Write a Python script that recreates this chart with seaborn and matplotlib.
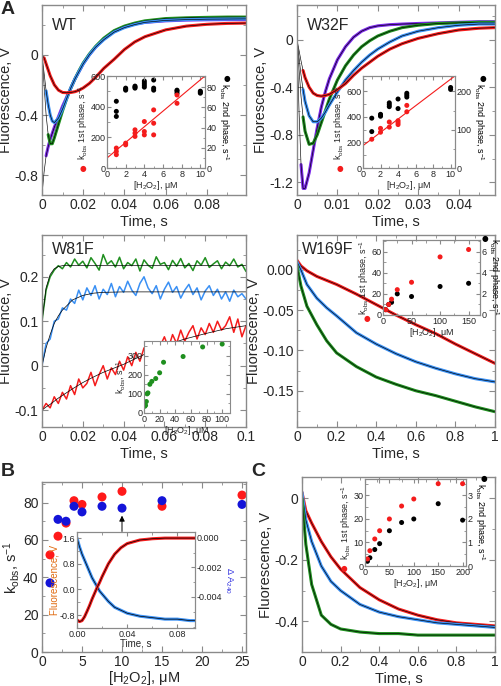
import numpy as np
import matplotlib
matplotlib.use("Agg")
import matplotlib.pyplot as plt
from matplotlib.ticker import AutoMinorLocator, MultipleLocator, FixedLocator
import seaborn as sns

sns.set_style("ticks")
plt.rcParams['font.family'] = ['Liberation Sans', 'DejaVu Sans']
plt.rcParams['mathtext.fontset'] = 'custom'
plt.rcParams['mathtext.rm'] = 'Liberation Sans'
plt.rcParams['mathtext.it'] = 'Liberation Sans:italic'
plt.rcParams['mathtext.default'] = 'regular'

W, H = 501, 686
RED = '#f41c1c'
BLUE = '#3a90f4'
GREEN = '#1f8f1f'
PURPLE = '#7a28e8'
FRAME = '#8a8a8a'

# ---------------- data: panel A, WT ----------------
wt_t = [0, 0.001, 0.002, 0.003, 0.004, 0.005, 0.006, 0.008, 0.010, 0.012, 0.014, 0.016, 0.018,
        0.020, 0.023, 0.026, 0.030, 0.035, 0.040, 0.045, 0.050, 0.060, 0.070, 0.080, 0.090, 0.099]
wt_red = [0.0, -0.02, -0.06, -0.10, -0.14, -0.17, -0.20, -0.235, -0.25, -0.252, -0.25, -0.245, -0.235,
          -0.22, -0.19, -0.15, -0.09, -0.03, 0.035, 0.085, 0.12, 0.165, 0.19, 0.202, 0.208, 0.21]
wt_blue = [0.0, -0.12, -0.24, -0.33, -0.40, -0.44, -0.45, -0.42, -0.36, -0.29, -0.22, -0.16, -0.11,
           -0.06, 0.0, 0.05, 0.10, 0.15, 0.18, 0.20, 0.215, 0.228, 0.233, 0.236, 0.237, 0.238]
wt_green = [0.0, -0.2, -0.4, -0.53, -0.59, -0.59, -0.55, -0.46, -0.37, -0.29, -0.22, -0.16, -0.105,
            -0.055, 0.005, 0.055, 0.11, 0.16, 0.19, 0.21, 0.225, 0.24, 0.245, 0.248, 0.25, 0.25]
wt_purple = [-0.93, -0.78, -0.67, -0.61, -0.56, -0.52, -0.48, -0.41, -0.34, -0.28, -0.22, -0.16, -0.11,
             -0.06, 0.0, 0.05, 0.105, 0.155, 0.185, 0.205, 0.215, 0.225, 0.23, 0.232, 0.233, 0.233]
wt_in_red_x = [1, 1, 1, 2, 2, 3, 3, 3, 4, 4, 4, 5, 5, 5, 7.5, 7.5]
wt_in_red_y = [130, 108, 87, 162, 151, 249, 227, 206, 303, 238, 216, 379, 292, 216, 476, 422]
wt_in_blk_x = [1, 1, 1, 2, 2, 2, 3, 3, 3, 4, 4, 4, 4, 5, 5, 5, 7.5, 7.5, 7.5, 10, 10, 10]
wt_in_blk_y = [66, 56, 51, 79, 78, 77, 81, 80, 79, 86, 84, 82, 80, 87, 79, 77, 77, 76, 74, 76, 75, 74]
wt_fit = (65, 51)  # intercept, slope

# ---------------- panel A, W32F ----------------
w32_t = [0, 0.0005, 0.001, 0.0015, 0.002, 0.003, 0.004, 0.005, 0.006, 0.007, 0.008, 0.010, 0.012,
         0.014, 0.016, 0.018, 0.020, 0.023, 0.026, 0.030, 0.035, 0.040, 0.045, 0.049]
w32_red = [0.0, -0.09, -0.18, -0.26, -0.32, -0.40, -0.45, -0.47, -0.475, -0.47, -0.46, -0.42, -0.37,
           -0.30, -0.24, -0.19, -0.14, -0.08, -0.035, 0.01, 0.05, 0.08, 0.095, 0.10]
w32_blue = [0.0, -0.15, -0.3, -0.42, -0.52, -0.64, -0.69, -0.69, -0.66, -0.61, -0.55, -0.44, -0.34,
            -0.26, -0.19, -0.13, -0.08, -0.02, 0.03, 0.07, 0.10, 0.12, 0.13, 0.13]
w32_green = [0.0, -0.25, -0.48, -0.65, -0.77, -0.88, -0.87, -0.80, -0.70, -0.60, -0.50, -0.34, -0.22,
             -0.13, -0.06, -0.01, 0.03, 0.07, 0.10, 0.12, 0.135, 0.14, 0.145, 0.145]
w32_purple = [0.0, -0.6, -1.05, -1.25, -1.25, -1.12, -0.93, -0.74, -0.57, -0.44, -0.33, -0.17, -0.06,
              0.02, 0.07, 0.10, 0.115, 0.125, 0.13, 0.135, 0.14, 0.145, 0.15, 0.15]
w32_in_red_x = [1, 2, 2, 3, 3, 4, 4, 4, 5, 5]
w32_in_red_y = [225, 280, 310, 320, 360, 340, 355, 370, 440, 490]
w32_in_blk_x = [1, 1, 2, 2, 2, 3, 3, 3, 4, 4, 5, 5, 5, 10, 10]
w32_in_blk_y = [95, 130, 135, 138, 140, 160, 165, 170, 155, 180, 185, 190, 195, 205, 210]
w32_fit = (175, 52)

# ---------------- panel A, W81F ----------------
w81_fit_t = [0, 0.002, 0.004, 0.006, 0.008, 0.010, 0.015, 0.020, 0.025, 0.030, 0.040, 0.050,
             0.060, 0.070, 0.080, 0.090, 0.100]
w81_fit_green = [0.10, 0.175, 0.205, 0.218, 0.223, 0.225, 0.225, 0.225, 0.225, 0.225, 0.225, 0.225,
                 0.225, 0.225, 0.225, 0.225, 0.225]
w81_fit_blue = [0.0, 0.04, 0.07, 0.095, 0.112, 0.125, 0.148, 0.158, 0.163, 0.165, 0.166, 0.166,
                0.166, 0.166, 0.166, 0.166, 0.166]
w81_fit_red = [-0.10, -0.093, -0.087, -0.080, -0.073, -0.067, -0.052, -0.038, -0.026, -0.015, 0.003,
               0.025, 0.045, 0.060, 0.072, 0.083, 0.090]
w81_t = list(np.round(np.arange(0, 0.1001, 0.002), 3))
w81_green = [0.10, 0.17, 0.20, 0.215, 0.225, 0.218, 0.232, 0.222, 0.240, 0.226, 0.235, 0.220, 0.243,
             0.230, 0.215, 0.250, 0.228, 0.236, 0.222, 0.244, 0.218, 0.232, 0.225, 0.240, 0.213,
             0.238, 0.226, 0.219, 0.245, 0.228, 0.232, 0.216, 0.237, 0.224, 0.241, 0.220, 0.230,
             0.214, 0.236, 0.226, 0.243, 0.221, 0.229, 0.236, 0.218, 0.233, 0.225, 0.240, 0.222,
             0.228, 0.212]
w81_blue = [0.0, 0.05, 0.06, 0.10, 0.105, 0.13, 0.125, 0.15, 0.14, 0.17, 0.148, 0.175, 0.158, 0.180,
            0.150, 0.172, 0.160, 0.185, 0.155, 0.178, 0.165, 0.190, 0.170, 0.158, 0.185, 0.200,
            0.175, 0.162, 0.180, 0.150, 0.172, 0.188, 0.165, 0.178, 0.152, 0.170, 0.183, 0.160,
            0.175, 0.148, 0.168, 0.180, 0.158, 0.172, 0.150, 0.166, 0.145, 0.170, 0.155, 0.162, 0.150]
w81_red = [-0.10, -0.085, -0.095, -0.07, -0.085, -0.06, -0.075, -0.045, -0.065, -0.03, -0.05, -0.04,
           -0.015, -0.045, -0.02, 0.0, -0.03, -0.005, -0.02, 0.01, -0.01, 0.02, 0.0, 0.03, 0.01, 0.04,
           0.015, 0.05, 0.03, 0.045, 0.065, 0.04, 0.07, 0.05, 0.08, 0.055, 0.075, 0.09, 0.06, 0.085,
           0.07, 0.095, 0.075, 0.10, 0.08, 0.09, 0.11, 0.075, 0.105, 0.065, 0.09]
w81_in_x = [1, 2, 3, 4, 5, 7.5, 10, 15, 20, 25, 50, 75, 100]
w81_in_y = [35, 40, 60, 100, 105, 150, 165, 180, 210, 265, 295, 345, 360]

# ---------------- panel A, W169F ----------------
w169_t = [0, 0.02, 0.05, 0.1, 0.15, 0.2, 0.3, 0.4, 0.5, 0.6, 0.7, 0.8, 0.9, 1.0]
w169_red = [0.012, 0.005, -0.001, -0.008, -0.013, -0.018, -0.030, -0.043, -0.056, -0.068, -0.079,
            -0.092, -0.104, -0.116]
w169_blue = [0.01, 0.0, -0.018, -0.035, -0.047, -0.057, -0.078, -0.092, -0.104, -0.114, -0.122,
             -0.129, -0.135, -0.139]
w169_green = [0.005, -0.02, -0.045, -0.068, -0.088, -0.103, -0.12, -0.133, -0.142, -0.15, -0.156,
              -0.163, -0.17, -0.176]
w169_in_x = [5, 10, 15, 25, 50, 100, 150]
w169_in_red = [5, 10, 15, 24, 31, 55, 62]
w169_in_blk = [0.5, 1.0, 1.2, 2.0, 1.75, 2.7, 3.0]

# ---------------- panel B ----------------
b_conc = [1, 2, 3, 4, 5, 7.5, 10, 15, 25]
b_red = [52, 62, 69, 81, 79, 83, 86, 78, 84]
b_blue = [37, 71, 70, 78, 75, 78, 77, 81, 79]
b_in_t = [0, 0.002, 0.004, 0.006, 0.008, 0.010, 0.012, 0.014, 0.016, 0.018, 0.020, 0.025, 0.030,
          0.035, 0.040, 0.050, 0.060, 0.070, 0.080, 0.090, 0.094]
b_in_fluor = [-0.95, -1.0, -0.97, -0.85, -0.68, -0.5, -0.3, -0.12, 0.06, 0.22, 0.4, 0.8, 1.1, 1.3,
              1.43, 1.54, 1.58, 1.6, 1.6, 1.6, 1.6]
b_in_abs = [0.0, -0.0006, -0.0011, -0.0015, -0.0019, -0.0023, -0.0027, -0.003, -0.0033, -0.0036,
            -0.0038, -0.0043, -0.0047, -0.0049, -0.0051, -0.0053, -0.0054, -0.0055, -0.0055,
            -0.0056, -0.0056]

# ---------------- panel C ----------------
c_t = [0, 0.02, 0.05, 0.1, 0.15, 0.2, 0.3, 0.4, 0.5, 0.6, 0.7, 0.8, 0.9, 1.0]
c_red = [0.02, -0.04, -0.08, -0.14, -0.19, -0.23, -0.29, -0.33, -0.36, -0.38, -0.395, -0.405, -0.41, -0.415]
c_blue = [0.02, -0.07, -0.14, -0.22, -0.27, -0.30, -0.345, -0.37, -0.385, -0.395, -0.405, -0.41, -0.415, -0.42]
c_green = [0.0, -0.15, -0.28, -0.38, -0.41, -0.425, -0.435, -0.44, -0.44, -0.445, -0.445, -0.445, -0.445, -0.445]
c_in_x = [5, 10, 20, 30, 50, 75, 100, 150, 200]
c_in_red = [3, 6.5, 11.5, 15, 20, 25.5, 28.5, 35, 35]
c_in_blk = [0.2, 0.35, 0.7, 0.95, 1.5, 1.85, 2.0, 2.65, 1.95]

fig = plt.figure(figsize=(W / 100, H / 100), dpi=100)

TICK = 10
LAB = 10.5
ITICK = 6.5
ILAB = 6.5


def add_ax(x0, y0, x1, y1):
    return fig.add_axes([x0 / W, 1 - y1 / H, (x1 - x0) / W, (y1 - y0) / H])


def style(ax, size=TICK, right=True):
    ax.tick_params(which='both', direction='in', top=True, right=right, labelsize=size,
                   color=FRAME, pad=2.5)
    ax.tick_params(which='major', length=4 if size > 8 else 3)
    ax.tick_params(which='minor', length=2.5 if size > 8 else 1.8)
    for s in ax.spines.values():
        s.set_color(FRAME)
        s.set_linewidth(1.0 if size > 8 else 0.8)
        s.set_visible(True)
    ax.xaxis.set_minor_locator(AutoMinorLocator(2))
    ax.yaxis.set_minor_locator(AutoMinorLocator(2))


def trace(ax, t, y, color, start=0, lw=2.2):
    sns.lineplot(x=t[start:], y=y[start:], ax=ax, color=color, lw=lw, estimator=None, sort=False)
    sns.lineplot(x=t, y=y, ax=ax, color='black', lw=0.45, estimator=None, sort=False)


def figtext(x, y, s, **kw):
    fig.text(x / W, 1 - y / H, s, **kw)


def dot(x, y, color):
    figtext(x, y, '●', color=color, fontsize=5.5, ha='center', va='center', family='DejaVu Sans')


def hlabel(ax):
    ax.set_xlabel('[H$_2$O$_2$], μM', fontsize=ILAB, labelpad=0)


def right_label(axr, text, color='black'):
    axr.set_ylabel(text, fontsize=ILAB, rotation=270, va='bottom', labelpad=0.5, color=color)


def twin_inset(box, xlim, ylim_l, ylim_r, xstep, ystep_l, ystep_r):
    axi = add_ax(*box)
    axr = axi.twinx()
    axi.set_xlim(*xlim); axi.set_ylim(*ylim_l); axr.set_ylim(*ylim_r)
    axi.xaxis.set_major_locator(MultipleLocator(xstep))
    axi.yaxis.set_major_locator(MultipleLocator(ystep_l))
    axr.yaxis.set_major_locator(MultipleLocator(ystep_r))
    style(axi, ITICK, right=False); style(axr, ITICK)
    axr.tick_params(which='both', left=False, top=False, labelleft=False)
    axi.set_zorder(axr.get_zorder() + 1); axi.patch.set_visible(False)
    axi.tick_params(pad=1.2); axr.tick_params(pad=1.2)
    return axi, axr


def rate_labels(axi, axr):
    hlabel(axi)
    axi.set_ylabel('k$_{obs}$ 1st phase, s$^{-1}$', fontsize=ILAB, labelpad=0.5)
    right_label(axr, 'k$_{obs}$ 2nd phase, s$^{-1}$')


def main_labels(ax, name=None, nx=0.05, ny=0.93):
    style(ax)
    ax.set_xlabel('Time, s', fontsize=LAB, labelpad=2)
    ax.set_ylabel('Fluorescence, V', fontsize=LAB, labelpad=1)
    if name:
        ax.text(nx, ny, name, transform=ax.transAxes, fontsize=11.5, va='top')


# ---- WT ----
ax = add_ax(42, 5, 246, 195)
trace(ax, wt_t, wt_purple, PURPLE, 2)
trace(ax, wt_t, wt_green, GREEN, 3)
trace(ax, wt_t, wt_blue, BLUE, 2)
trace(ax, wt_t, wt_red, RED, 1)
ax.set_xlim(0, 0.099)
ax.set_ylim(-0.93, 0.33)
ax.xaxis.set_major_locator(FixedLocator([0, 0.02, 0.04, 0.06, 0.08]))
ax.set_xticklabels(['0', '0.02', '0.04', '0.06', '0.08'])
ax.yaxis.set_major_locator(FixedLocator([-0.8, -0.4, 0]))
ax.set_yticklabels(['-0.8', '-0.4', '0'])
main_labels(ax, 'WT')

axi, axr = twin_inset((107, 76, 205, 168), (0, 10.5), (0, 600), (0, 91), 2, 200, 20)
sns.scatterplot(x=wt_in_blk_x, y=wt_in_blk_y, ax=axr, color='black', s=13, edgecolor='none')
sns.scatterplot(x=wt_in_red_x, y=wt_in_red_y, ax=axi, color=RED, s=13, edgecolor='none', zorder=3)
fx = np.array([0, 10.5])
sns.lineplot(x=fx, y=wt_fit[0] + wt_fit[1] * fx, ax=axi, color=RED, lw=0.8)
rate_labels(axi, axr)
dot(83, 169, RED); dot(227, 78, 'black')

# ---- W32F ----
ax = add_ax(297, 5, 495, 195)
trace(ax, w32_t, w32_purple, PURPLE, 2)
trace(ax, w32_t, w32_green, GREEN, 3)
trace(ax, w32_t, w32_blue, BLUE, 3)
trace(ax, w32_t, w32_red, RED, 3)
ax.set_xlim(0, 0.049)
ax.set_ylim(-1.305, 0.29)
ax.xaxis.set_major_locator(FixedLocator([0, 0.01, 0.02, 0.03, 0.04]))
ax.set_xticklabels(['0', '0.01', '0.02', '0.03', '0.04'])
ax.yaxis.set_major_locator(FixedLocator([-1.2, -0.8, -0.4, 0]))
ax.set_yticklabels(['-1.2', '-0.8', '-0.4', '0'])
main_labels(ax, 'W32F')

axi, axr = twin_inset((363, 76, 455, 168), (0, 10.5), (0, 720), (0, 240), 2, 200, 100)
sns.scatterplot(x=w32_in_blk_x, y=w32_in_blk_y, ax=axr, color='black', s=13, edgecolor='none')
sns.scatterplot(x=w32_in_red_x, y=w32_in_red_y, ax=axi, color=RED, s=13, edgecolor='none', zorder=3)
sns.lineplot(x=fx, y=w32_fit[0] + w32_fit[1] * fx, ax=axi, color=RED, lw=0.8)
rate_labels(axi, axr)
dot(340, 169, RED); dot(483, 78, 'black')

# ---- W81F ----
ax = add_ax(42, 235, 246, 427)
for yd, c in [(w81_red, RED), (w81_blue, BLUE), (w81_green, GREEN)]:
    sns.lineplot(x=w81_t, y=yd, ax=ax, color=c, lw=1.1, estimator=None, sort=False)
for yf in [w81_fit_red, w81_fit_blue, w81_fit_green]:
    sns.lineplot(x=w81_fit_t, y=yf, ax=ax, color='black', lw=0.5, estimator=None, sort=False)
ax.set_xlim(0, 0.1)
ax.set_ylim(-0.138, 0.294)
ax.xaxis.set_major_locator(FixedLocator([0, 0.02, 0.04, 0.06, 0.08, 0.1]))
ax.set_xticklabels(['0', '0.02', '0.04', '0.06', '0.08', '0.1'])
ax.yaxis.set_major_locator(FixedLocator([-0.1, 0, 0.1, 0.2]))
ax.set_yticklabels(['-0.1', '0', '0.1', '0.2'])
main_labels(ax, 'W81F', 0.05, 0.965)

axi = add_ax(144, 341, 230, 413)
sns.scatterplot(x=w81_in_x, y=w81_in_y, ax=axi, color=GREEN, s=13, edgecolor='none')
axi.set_xlim(0, 110); axi.set_ylim(0, 376)
axi.xaxis.set_major_locator(MultipleLocator(20)); axi.yaxis.set_major_locator(MultipleLocator(100))
style(axi, ITICK)
axi.tick_params(pad=1.2)
hlabel(axi)
axi.set_ylabel('k$_{obs}$, s$^{-1}$', fontsize=ILAB, labelpad=0.5)

# ---- W169F ----
ax = add_ax(297, 235, 495, 427)
trace(ax, w169_t, w169_red, RED)
trace(ax, w169_t, w169_blue, BLUE)
trace(ax, w169_t, w169_green, GREEN)
ax.set_xlim(0, 1)
ax.set_ylim(-0.195, 0.0434)
ax.xaxis.set_major_locator(FixedLocator([0, 0.2, 0.4, 0.6, 0.8, 1]))
ax.set_xticklabels(['0', '0.2', '0.4', '0.6', '0.8', '1'])
ax.yaxis.set_major_locator(FixedLocator([-0.15, -0.1, -0.05, 0]))
ax.set_yticklabels(['-0.15', '-0.10', '-0.05', '0.00'])
main_labels(ax, 'W169F', 0.025, 0.965)

axi, axr = twin_inset((383, 240, 480, 315), (0, 170), (0, 71), (0, 7.1), 50, 20, 2)
sns.scatterplot(x=w169_in_x, y=w169_in_blk, ax=axr, color='black', s=13, edgecolor='none')
sns.scatterplot(x=w169_in_x, y=w169_in_red, ax=axi, color=RED, s=13, edgecolor='none')
rate_labels(axi, axr)
dot(367, 319, RED); dot(485, 239, 'black')

# ---- B ----
ax = add_ax(42, 482, 246, 652)
sns.scatterplot(x=b_conc, y=b_red, ax=ax, color='#ff1a1a', s=42, edgecolor='none')
sns.scatterplot(x=b_conc, y=b_blue, ax=ax, color='#1414d8', s=42, edgecolor='none')
ax.annotate('', xy=(10, 73), xytext=(10, 64.5),
            arrowprops=dict(arrowstyle='-|>', color='black', lw=0.7, mutation_scale=8,
                            shrinkA=0, shrinkB=0))
ax.set_xlim(0, 25.5)
ax.set_ylim(0, 91)
ax.xaxis.set_major_locator(MultipleLocator(5))
ax.yaxis.set_major_locator(MultipleLocator(20))
style(ax)
ax.set_xlabel('[H$_2$O$_2$], μM', fontsize=LAB, labelpad=0)
ax.set_ylabel('k$_{obs}$, s$^{-1}$', fontsize=LAB, labelpad=1)

axi = add_ax(77, 532, 195, 628)
axr = axi.twinx()
sns.lineplot(x=b_in_t, y=b_in_abs, ax=axr, color=BLUE, lw=2.2, estimator=None)
sns.lineplot(x=b_in_t, y=b_in_abs, ax=axr, color='black', lw=0.5, estimator=None)
sns.lineplot(x=b_in_t, y=b_in_fluor, ax=axi, color=RED, lw=2.2, estimator=None)
sns.lineplot(x=b_in_t, y=b_in_fluor, ax=axi, color='black', lw=0.5, estimator=None)
axi.set_xlim(0, 0.094); axi.set_ylim(-1.2, 1.79); axr.set_ylim(-0.0061, 0.0004)
axi.xaxis.set_major_locator(FixedLocator([0, 0.04, 0.08]))
axi.set_xticklabels(['0.00', '0.04', '0.08'])
axi.yaxis.set_major_locator(FixedLocator([-0.8, 0, 0.8, 1.6]))
axi.set_yticklabels(['-0.8', '0.0', '0.8', '1.6'])
axr.yaxis.set_major_locator(FixedLocator([-0.004, -0.002, 0]))
axr.set_yticklabels(['-0.004', '-0.002', '0.000'])
style(axi, ITICK, right=False); style(axr, ITICK)
axr.tick_params(which='both', left=False, top=False, labelleft=False)
axi.tick_params(pad=1.2); axr.tick_params(pad=1.2)
axi.set_zorder(axr.get_zorder() + 1); axi.patch.set_visible(False)
axi.set_xlabel('Time, s', fontsize=ILAB + 0.5, labelpad=0)
axi.set_ylabel('Fluorescence, V', fontsize=ILAB + 0.5, labelpad=0.5, color='#e06a10')
right_label(axr, 'Δ A$_{240}$', color='#3030e0')

# ---- C ----
ax = add_ax(302, 477, 495, 652)
trace(ax, c_t, c_red, RED)
trace(ax, c_t, c_blue, BLUE)
trace(ax, c_t, c_green, GREEN)
ax.set_xlim(0, 1)
ax.set_ylim(-0.5, 0.07)
ax.xaxis.set_major_locator(FixedLocator([0, 0.2, 0.4, 0.6, 0.8, 1]))
ax.set_xticklabels(['0', '0.2', '0.4', '0.6', '0.8', '1'])
ax.yaxis.set_major_locator(FixedLocator([-0.4, -0.2, 0]))
ax.set_yticklabels(['-0.4', '-0.2', '0'])
main_labels(ax)

axi, axr = twin_inset((365, 479, 466, 566), (0, 207), (0, 37), (0, 3.7), 50, 10, 1)
sns.scatterplot(x=c_in_x, y=c_in_blk, ax=axr, color='black', s=13, edgecolor='none')
sns.scatterplot(x=c_in_x, y=c_in_red, ax=axi, color=RED, s=13, edgecolor='none')
rate_labels(axi, axr)
dot(344, 568, RED); dot(484, 479, 'black')

# panel letters
figtext(1, 1, 'A', fontsize=14, fontweight='bold', va='top', ha='left')
figtext(1, 463, 'B', fontsize=14, fontweight='bold', va='top', ha='left')
figtext(251, 463, 'C', fontsize=14, fontweight='bold', va='top', ha='left')

fig.savefig('out.png', dpi=100)
